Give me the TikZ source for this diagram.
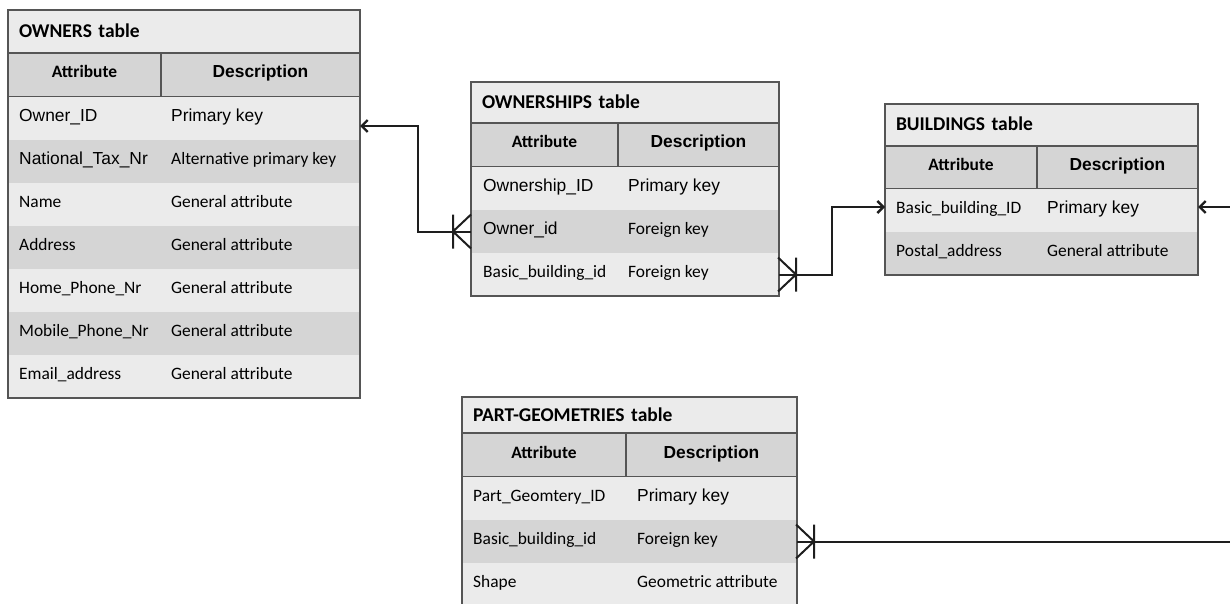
\documentclass[tikz,border=0pt]{standalone}
\usepackage{fontspec}
\setmainfont{Carlito}
\newfontfamily\arialf{Liberation Sans}
\usetikzlibrary{arrows.meta}
\definecolor{rowlt}{HTML}{EBEBEB}
\definecolor{rowdk}{HTML}{D5D5D5}
\definecolor{tabline}{HTML}{555555}
\definecolor{conn}{HTML}{1E1E1E}
\newcommand\bodysize{\fontsize{17.4}{20}\selectfont}
\newcommand\ar{\arialf\bodysize}

\begin{document}
\begin{tikzpicture}[x=1pt, y=-1pt, every node/.style={font=\bodysize}]
\tikzset{
  ttl/.style={draw=tabline, line width=1.2pt, fill=rowlt, anchor=north west, outer sep=0pt, inner xsep=11pt, inner ysep=0pt, align=left, text height=13pt, text depth=1pt, font=\bfseries\fontsize{19.5}{22}\selectfont},
  hdr/.style={draw=tabline, line width=1.2pt, fill=rowdk, anchor=north west, outer sep=0pt, inner sep=0pt, minimum height=44pt, text height=11pt, text depth=5pt, font=\bfseries\bodysize},
  row/.style={fill=#1, anchor=north west, outer sep=0pt, inner sep=0pt, minimum height=43pt},
  txt/.style={anchor=base west, inner sep=0pt},
  frame/.style={draw=tabline, line width=1.5pt},
  link/.style={draw=conn, line width=2pt},
  tip/.style={-{Straight Barb[length=6pt,width=12pt,line width=2.4pt]}},
  crowfoot/.pic={\draw[link] (0,-17) -- (0,17) (18,-17) -- (0,0) -- (18,17);}
}
\useasboundingbox (0,0) rectangle (1230,604);

% OWNERS
\node[ttl, text width=330pt, minimum height=43pt] (own) at (8,10) {OWNERS table};
\node[hdr, minimum width=153pt] (own-ha) at (8,53) {Attribute};
\node[hdr, minimum width=199pt, font=\bfseries\ar] (own-hd) at (161,53) {Description};
\foreach \i/\c/\a/\d in {1/rowlt/{\ar Owner\_ID}/{\ar Primary key},
    2/rowdk/{\ar National\_Tax\_Nr}/Alternative primary key,
    3/rowlt/Name/General attribute, 4/rowdk/Address/General attribute,
    5/rowlt/Home\_Phone\_Nr/General attribute, 6/rowdk/Mobile\_Phone\_Nr/General attribute,
    7/rowlt/Email\_address/General attribute}{
  \node[row=\c, minimum width=352pt] (own-\i) at (8,{97+(\i-1)*43}) {};
  \node[txt] (own-\i-a) at ([xshift=11pt,yshift=-3pt]own-\i.west) {\a};
  \node[txt] (own-\i-d) at ([xshift=163pt,yshift=-3pt]own-\i.west) {\d};
}
\draw[frame] (own.north west) rectangle (own-7.south east);

% OWNERSHIPS
\node[ttl, text width=286pt, minimum height=41pt] (osh) at (471,82) {OWNERSHIPS table};
\node[hdr, minimum width=147pt] (osh-ha) at (471,123) {Attribute};
\node[hdr, minimum width=161pt, font=\bfseries\ar] (osh-hd) at (618,123) {Description};
\foreach \i/\c/\a/\d in {1/rowlt/{\ar Ownership\_ID}/{\ar Primary key},
    2/rowdk/{\ar Owner\_id}/Foreign key, 3/rowlt/Basic\_building\_id/Foreign key}{
  \node[row=\c, minimum width=308pt] (osh-\i) at (471,{167+(\i-1)*43}) {};
  \node[txt] (osh-\i-a) at ([xshift=12pt,yshift=-3pt]osh-\i.west) {\a};
  \node[txt] (osh-\i-d) at ([xshift=157pt,yshift=-3pt]osh-\i.west) {\d};
}
\draw[frame] (osh.north west) rectangle (osh-3.south east);

% BUILDINGS
\node[ttl, text width=291pt, minimum height=42pt] (bld) at (885,104) {BUILDINGS table};
\node[hdr, minimum width=152pt, minimum height=43pt] (bld-ha) at (885,146) {Attribute};
\node[hdr, minimum width=161pt, minimum height=43pt, font=\bfseries\ar] (bld-hd) at (1037,146) {Description};
\foreach \i/\c/\a/\d in {1/rowlt/Basic\_building\_ID/{\ar Primary key},
    2/rowdk/Postal\_address/General attribute}{
  \node[row=\c, minimum width=313pt] (bld-\i) at (885,{189+(\i-1)*43}) {};
  \node[txt] (bld-\i-a) at ([xshift=11pt,yshift=-3pt]bld-\i.west) {\a};
  \node[txt] (bld-\i-d) at ([xshift=162pt,yshift=-3pt]bld-\i.west) {\d};
}
\draw[frame] (bld.north west) rectangle (bld-2.south east);

% PART-GEOMETRIES
\node[ttl, text width=313pt, minimum height=36pt] (pg) at (462,397) {PART-GEOMETRIES table};
\node[hdr, minimum width=164pt] (pg-ha) at (462,433) {Attribute};
\node[hdr, minimum width=171pt, font=\bfseries\ar] (pg-hd) at (626,433) {Description};
\foreach \i/\c/\a/\d in {1/rowlt/Part\_Geomtery\_ID/{\ar Primary key},
    2/rowdk/Basic\_building\_id/Foreign key, 3/rowlt/Shape/Geometric attribute}{
  \node[row=\c, minimum width=335pt] (pg-\i) at (462,{477+(\i-1)*43}) {};
  \node[txt] (pg-\i-a) at ([xshift=11pt,yshift=-3pt]pg-\i.west) {\a};
  \node[txt] (pg-\i-d) at ([xshift=175pt,yshift=-3pt]pg-\i.west) {\d};
}
\draw[frame] (pg.north west) rectangle (pg-3.south east);

% links
\coordinate (rim-b) at (1230,207);
\coordinate (rim-p) at (1230,540);
\draw[link, tip] (osh-2.west) -- ++(-53,0) |- ([yshift=-7.5pt]own-1.east);
\pic at ([xshift=-18pt]osh-2.west) {crowfoot};
\draw[link, tip] (osh-3.east) -- ++(53,0) |- ([yshift=3.5pt]bld-1.west);
\pic[rotate=180] at ([xshift=17pt]osh-3.east) {crowfoot};
\draw[link, tip] (rim-b) -- (rim-b -| bld-1.east);
\draw[link] (pg-2.east) -- (pg-2.east -| rim-p);
\pic[rotate=180] at ([xshift=17pt]pg-2.east) {crowfoot};
\end{tikzpicture}
\end{document}
